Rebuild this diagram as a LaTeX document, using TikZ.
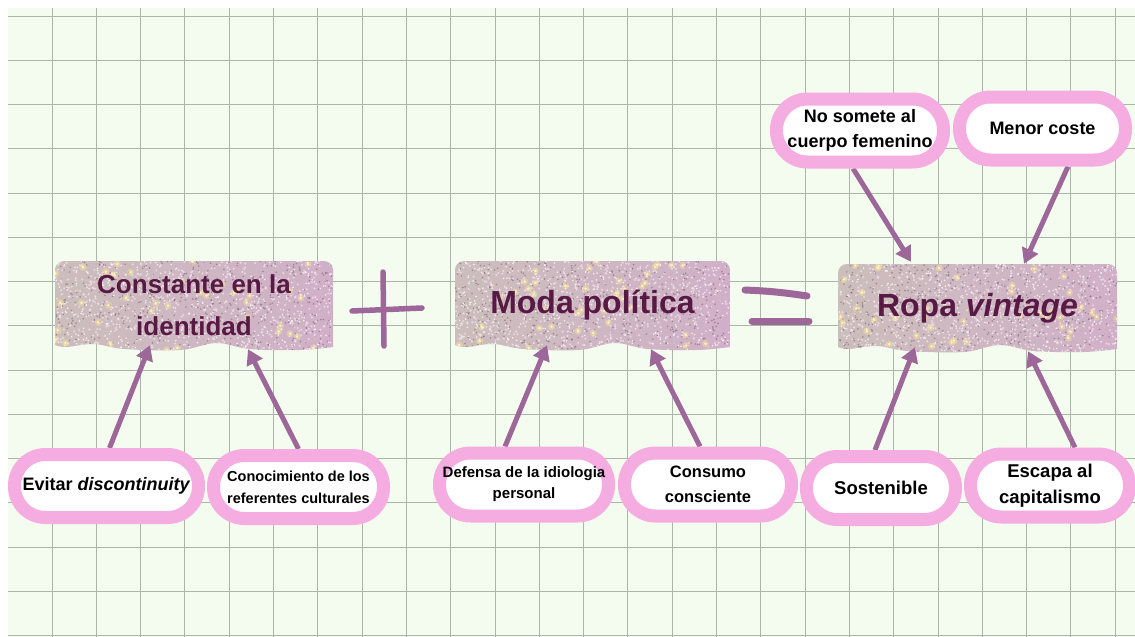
\documentclass[tikz,border=0pt]{standalone}
\usepackage{fontspec}
\setmainfont{Liberation Sans}
\usetikzlibrary{arrows.meta}
\pgfdeclarelayer{bg}
\pgfdeclarelayer{glit}
\pgfdeclarelayer{arr}
\pgfsetlayers{bg,glit,arr,main}
\definecolor{paper}{RGB}{243,252,238}
\definecolor{gridc}{RGB}{170,182,168}
\definecolor{pinkc}{RGB}{245,172,224}
\definecolor{mauve}{RGB}{157,103,153}
\definecolor{tcol}{RGB}{88,26,68}
\definecolor{glA}{RGB}{204,190,188}
\definecolor{glB}{RGB}{208,176,200}
\definecolor{gdark}{RGB}{120,92,112}
\definecolor{glight}{RGB}{240,222,232}
\definecolor{spark}{RGB}{255,236,150}
\newcommand\fsz[2]{\bfseries\fontsize{#1}{#2}\selectfont}
\newcommand\glitbox[4]{%
  \pgfmathsetmacro\gw{#3-#1}%
  \pgfmathsetmacro\gh{#4-#2}%
  \def\gpath{[rounded corners=9pt] (#1,#4-5) -- (#1,#2) -- (#3,#2) -- (#3,#4-3) [sharp corners] -- plot[smooth,tension=0.6] coordinates {(#3,#4-3) ({#3-0.12*\gw},#4) ({#3-0.3*\gw},#4-1) ({#3-0.42*\gw},#4-7) ({#3-0.55*\gw},#4) ({#3-0.75*\gw},#4-1) ({#3-0.86*\gw},#4-6) ({#1+0.04*\gw},#4-3) (#1,#4-5)} -- cycle}%
  \shade[left color=glA,right color=glB] \gpath;
  \begin{scope}
    \clip \gpath;
    \foreach \i in {1,...,1500}{%
      \pgfmathsetmacro\rx{#1+rnd*\gw}%
      \pgfmathsetmacro\ry{#2+rnd*\gh}%
      \pgfmathtruncatemacro\m{mod(\i,3)}%
      \ifcase\m \fill[white,opacity=.75] (\rx,\ry) circle (0.9);
      \or \fill[gdark,opacity=.55] (\rx,\ry) circle (0.9);
      \else \fill[glight,opacity=.8] (\rx,\ry) circle (1.2);
      \fi}
    \foreach \i in {1,...,40}{%
      \pgfmathsetmacro\rx{#1+rnd*\gw}%
      \pgfmathsetmacro\ry{#2+rnd*\gh}%
      \fill[spark,opacity=.4] (\rx,\ry) circle (3.5);
      \fill[spark!50!white,opacity=.9] (\rx,\ry) circle (1.4);}
  \end{scope}}
\tikzset{
  gridl/.style={draw=gridc,line width=1pt},
  pill/.style={draw=pinkc,line width=13pt,fill=white,rounded corners=31pt,
    inner sep=0pt,align=center,text=black,minimum height=63pt},
  btext/.style={inner sep=0pt,align=center,text=tcol},
  arr/.style={draw=mauve,line width=5pt,-{Triangle[width=17pt,length=15pt]}},
  sym/.style={draw=mauve,line cap=round}
}
\begin{document}
\begin{tikzpicture}[x=1pt,y=-1pt]
\useasboundingbox (0,0) rectangle (1135,637);
\begin{pgfonlayer}{bg}
\fill[white] (0,0) rectangle (1135,637);
\fill[paper] (8,8) rectangle (1135,637);
\foreach \k in {0,...,24} \draw[gridl] ({52+44.3*\k},8) -- ({52+44.3*\k},637);
\foreach \k in {0,...,14} \draw[gridl] (8,{16+44.25*\k}) -- (1135,{16+44.25*\k});
\end{pgfonlayer}
\pgfmathsetseed{11}
\begin{pgfonlayer}{glit}
\glitbox{55}{261}{333}{350}
\glitbox{455}{261}{730}{350}
\glitbox{838}{264}{1117}{352}
\end{pgfonlayer}
% titles
\node[btext,minimum width=278pt,minimum height=89pt,font=\fsz{26}{42}] (b1) at (194,305.5) {Constante en la\\identidad};
\node[btext,minimum width=275pt,minimum height=89pt,font=\fsz{32}{38}] (b2) at (592.5,305.5) {Moda política};
\node[btext,minimum width=279pt,minimum height=88pt,font=\fsz{32}{38}] (b3) at (977.5,308) {Ropa \textit{vintage}};
% pills
\node[pill,minimum width=184pt,font=\fsz{18}{22}] (p1) at (106.5,486) {Evitar \textit{discontinuity}};
\node[pill,minimum width=170pt,font=\fsz{14.5}{22}] (p2) at (298.5,487) {Conocimiento de los\\referentes culturales};
\node[pill,minimum width=169pt,font=\fsz{15}{21}] (p3) at (524,484.5) {Defensa de la idiologia\\personal};
\node[pill,minimum width=167pt,font=\fsz{16.5}{25}] (p4) at (708,484.5) {Consumo\\consciente};
\node[pill,minimum width=149pt,font=\fsz{18.5}{22}] (p5) at (881,488) {Sostenible};
\node[pill,minimum width=159pt,font=\fsz{18.5}{26}] (p6) at (1050,485.5) {Escapa al\\capitalismo};
\node[pill,minimum width=167pt,font=\fsz{18}{25}] (p7) at (860,130.5) {No somete al\\cuerpo femenino};
\node[pill,minimum width=166pt,font=\fsz{18}{22}] (p8) at (1042.5,128.5) {Menor coste};
% operators
\draw[sym,line width=5.5pt] (383,272) -- (384,346);
\draw[sym,line width=5.5pt] (352,311) -- (422,308);
\draw[sym,line width=7pt] (745,290) to[bend left=3] (807,296);
\draw[sym,line width=7pt] (752,321) -- (809,321);
% connectors
\begin{pgfonlayer}{arr}
\draw[arr] ([xshift=3pt]p1.north) -- ([xshift=-44pt,yshift=5pt]b1.south);
\draw[arr] (p2.north) -- ([xshift=54pt,yshift=1pt]b1.south);
\draw[arr] ([xshift=-19pt]p3.north) -- ([xshift=-45.5pt,yshift=5pt]b2.south);
\draw[arr] ([xshift=-8pt]p4.north) -- ([xshift=58.5pt,yshift=1pt]b2.south);
\draw[arr] ([xshift=-7pt]p7.south) -- ([xshift=-66.5pt,yshift=2pt]b3.north);
\draw[arr] ([xshift=25.5pt]p8.south) -- ([xshift=46.5pt]b3.north);
\draw[arr] ([xshift=-6pt]p5.north) -- ([xshift=-62.5pt,yshift=5pt]b3.south);
\draw[arr] ([xshift=25pt]p6.north) -- ([xshift=50.5pt,yshift=1pt]b3.south);
\end{pgfonlayer}
\end{tikzpicture}
\end{document}
